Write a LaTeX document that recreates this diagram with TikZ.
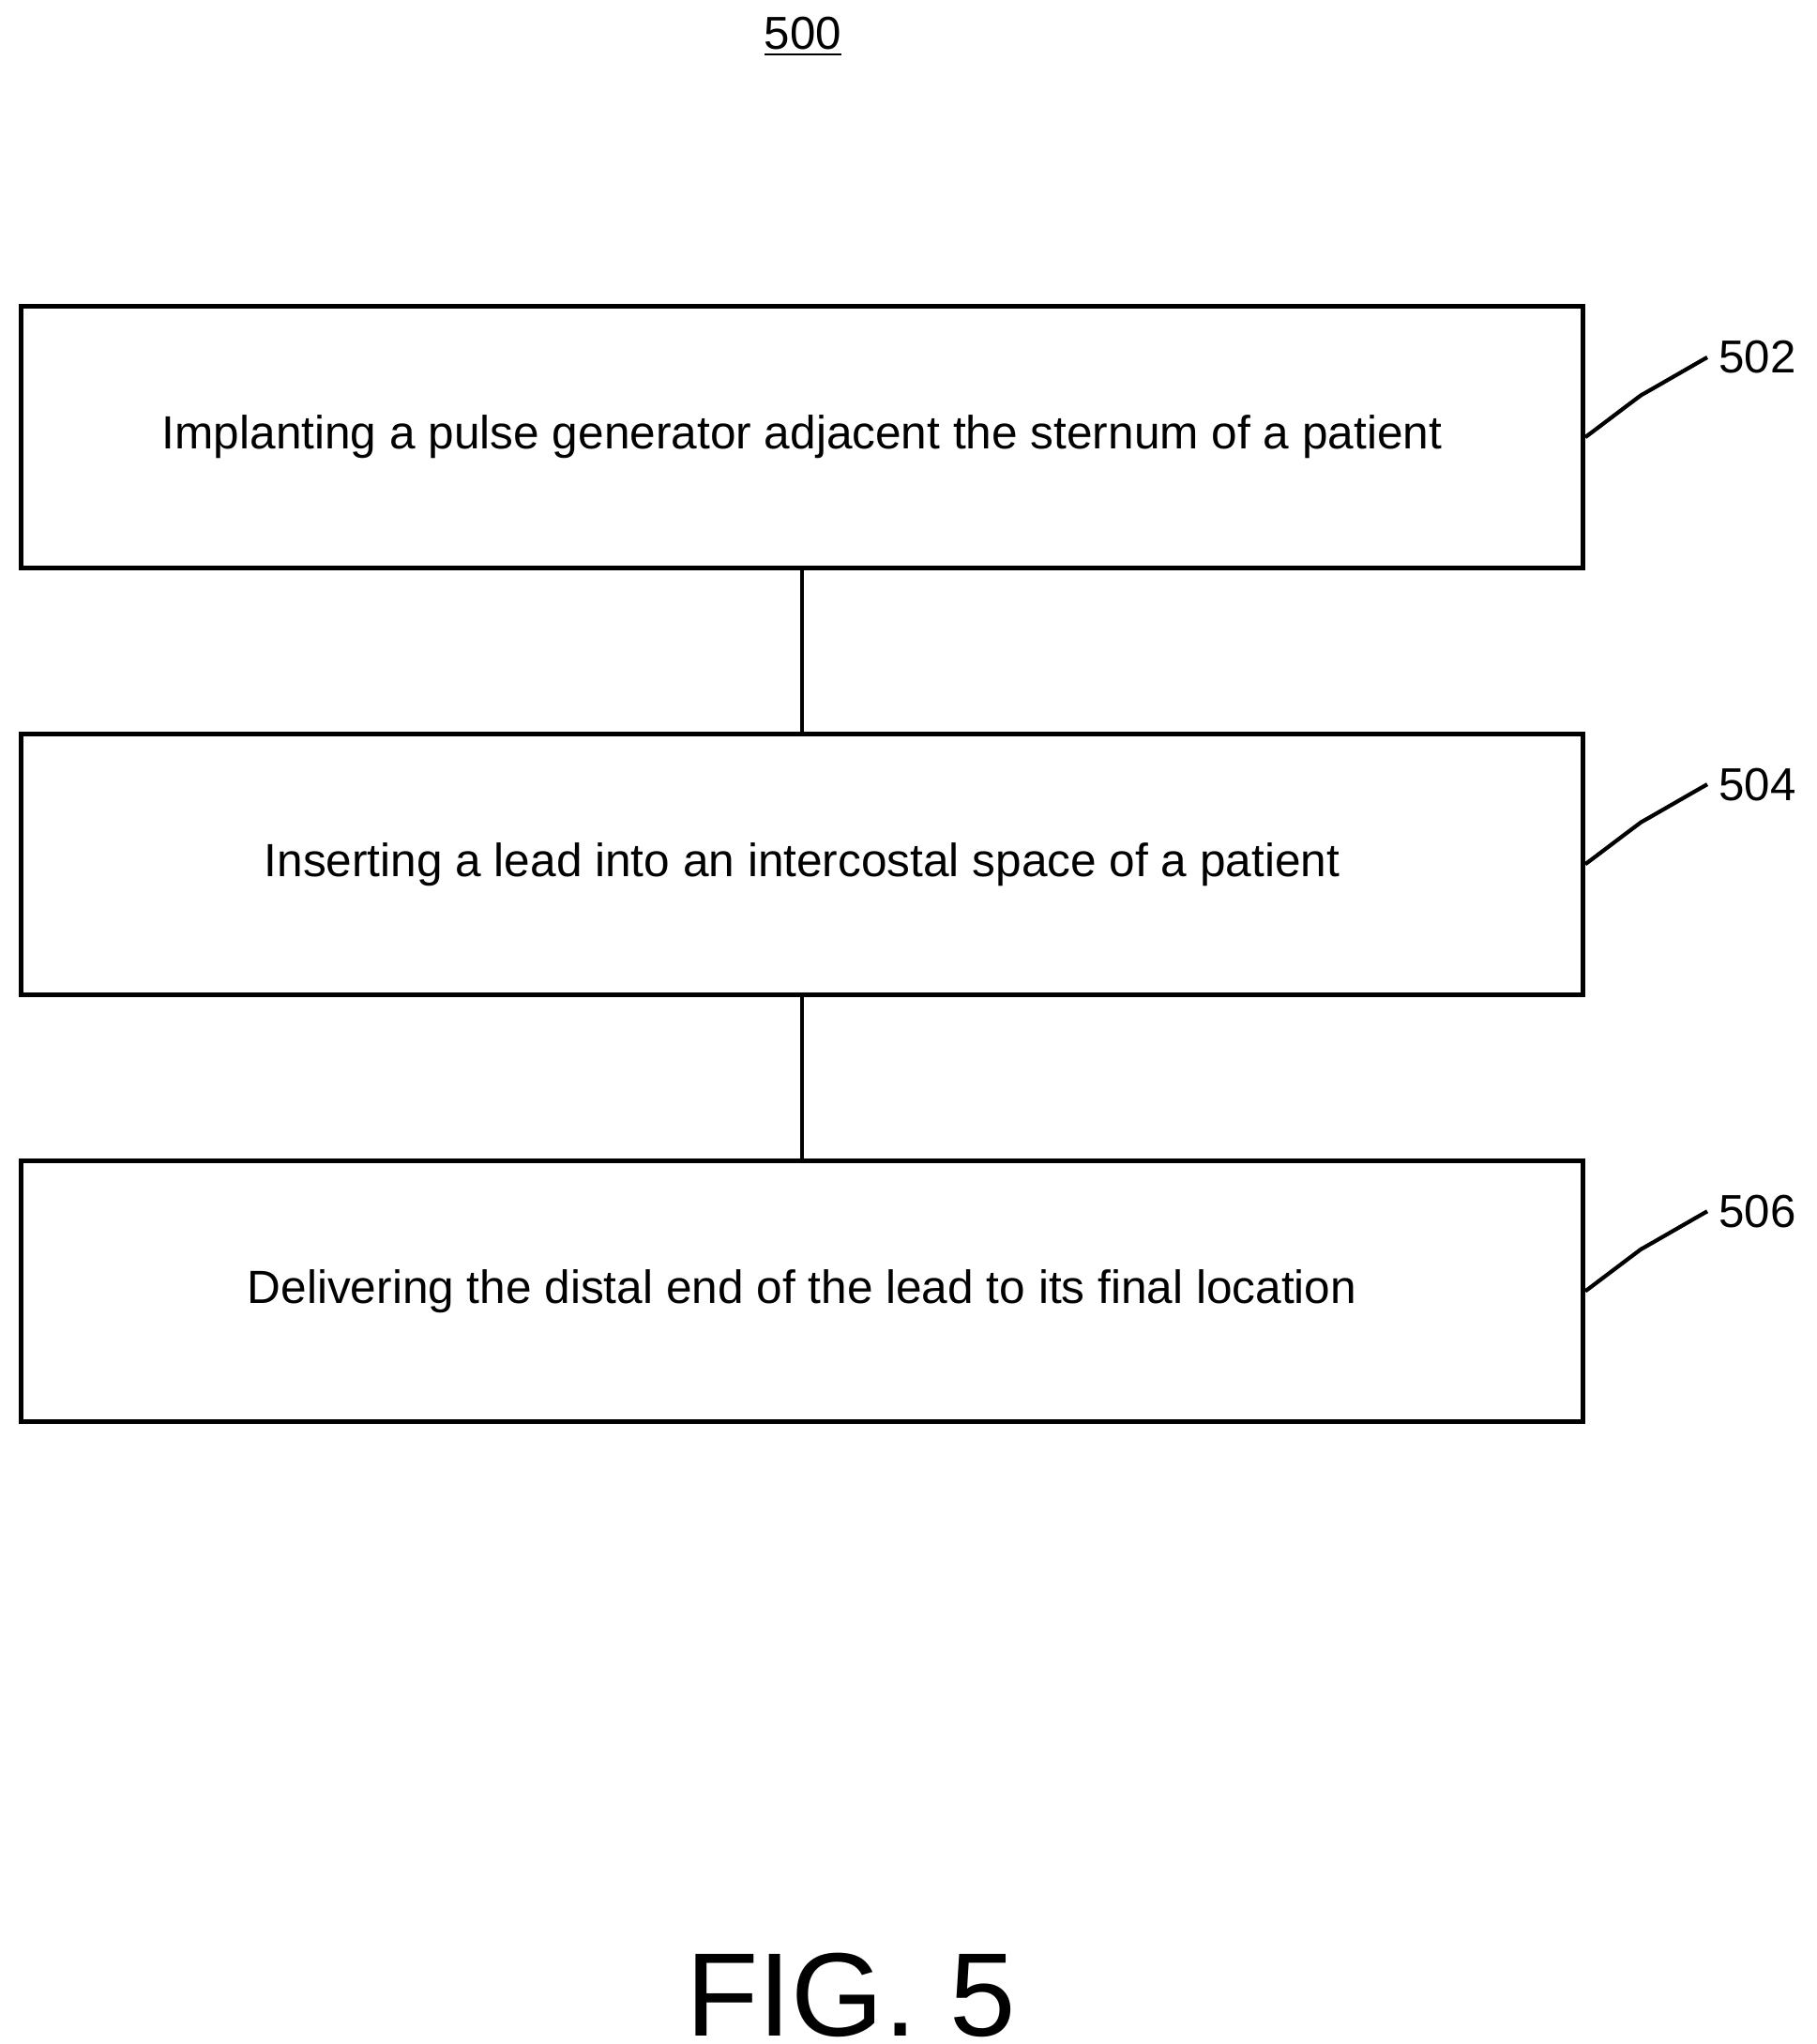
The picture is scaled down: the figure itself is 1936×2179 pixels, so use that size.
\documentclass[tikz,border=0pt]{standalone}
\usepackage{fontspec}
\setmainfont{Liberation Sans}
\usetikzlibrary{positioning}
\tikzset{
  stepbox/.style={draw, line width=1.4pt, minimum width=16.64cm, minimum height=2.78cm, font=\fontsize{14.1}{17}\selectfont},
  ref/.style={font=\fontsize{14}{17}\selectfont},
  link/.style={line width=1.4pt},
}
\begin{document}
\begin{tikzpicture}[x=0.01cm, y=-0.01cm]
\useasboundingbox (0,0) rectangle (1936,2179);

% Title
\node[ref] (title) at (856,39) {\underline{500}};

% === Steps ===
\node[stepbox] (Step-1) at (855,466) {Implanting a pulse generator adjacent the sternum of a patient};
\node[stepbox, below=1.72cm of Step-1] (Step-2) {Inserting a lead into an intercostal space of a patient};
\node[stepbox, below=1.72cm of Step-2] (Step-3) {Delivering the distal end of the lead to its final location};

% === Connections ===
\draw[link] (Step-1) -- (Step-2);
\draw[link] (Step-2) -- (Step-3);

% === Reference labels ===
\foreach \i/\num in {1/502,2/504,3/506}{
  \node[ref, anchor=west] (Ref-\i) at ([xshift=1.3cm, yshift=0.85cm]Step-\i.east) {\num};
  \draw[line width=1.2pt] (Step-\i.east) .. controls +(0.4,0.05) and +(-0.3,-0.1) .. ([xshift=0.6cm, yshift=0.45cm]Step-\i.east)
    .. controls +(0.3,0.1) and +(-0.3,-0.05) .. (Ref-\i.west);
}

% Figure label
\node[font=\fontsize{36}{43}\selectfont] (fig) at (907,2127) {FIG. 5};
\end{tikzpicture}
\end{document}
